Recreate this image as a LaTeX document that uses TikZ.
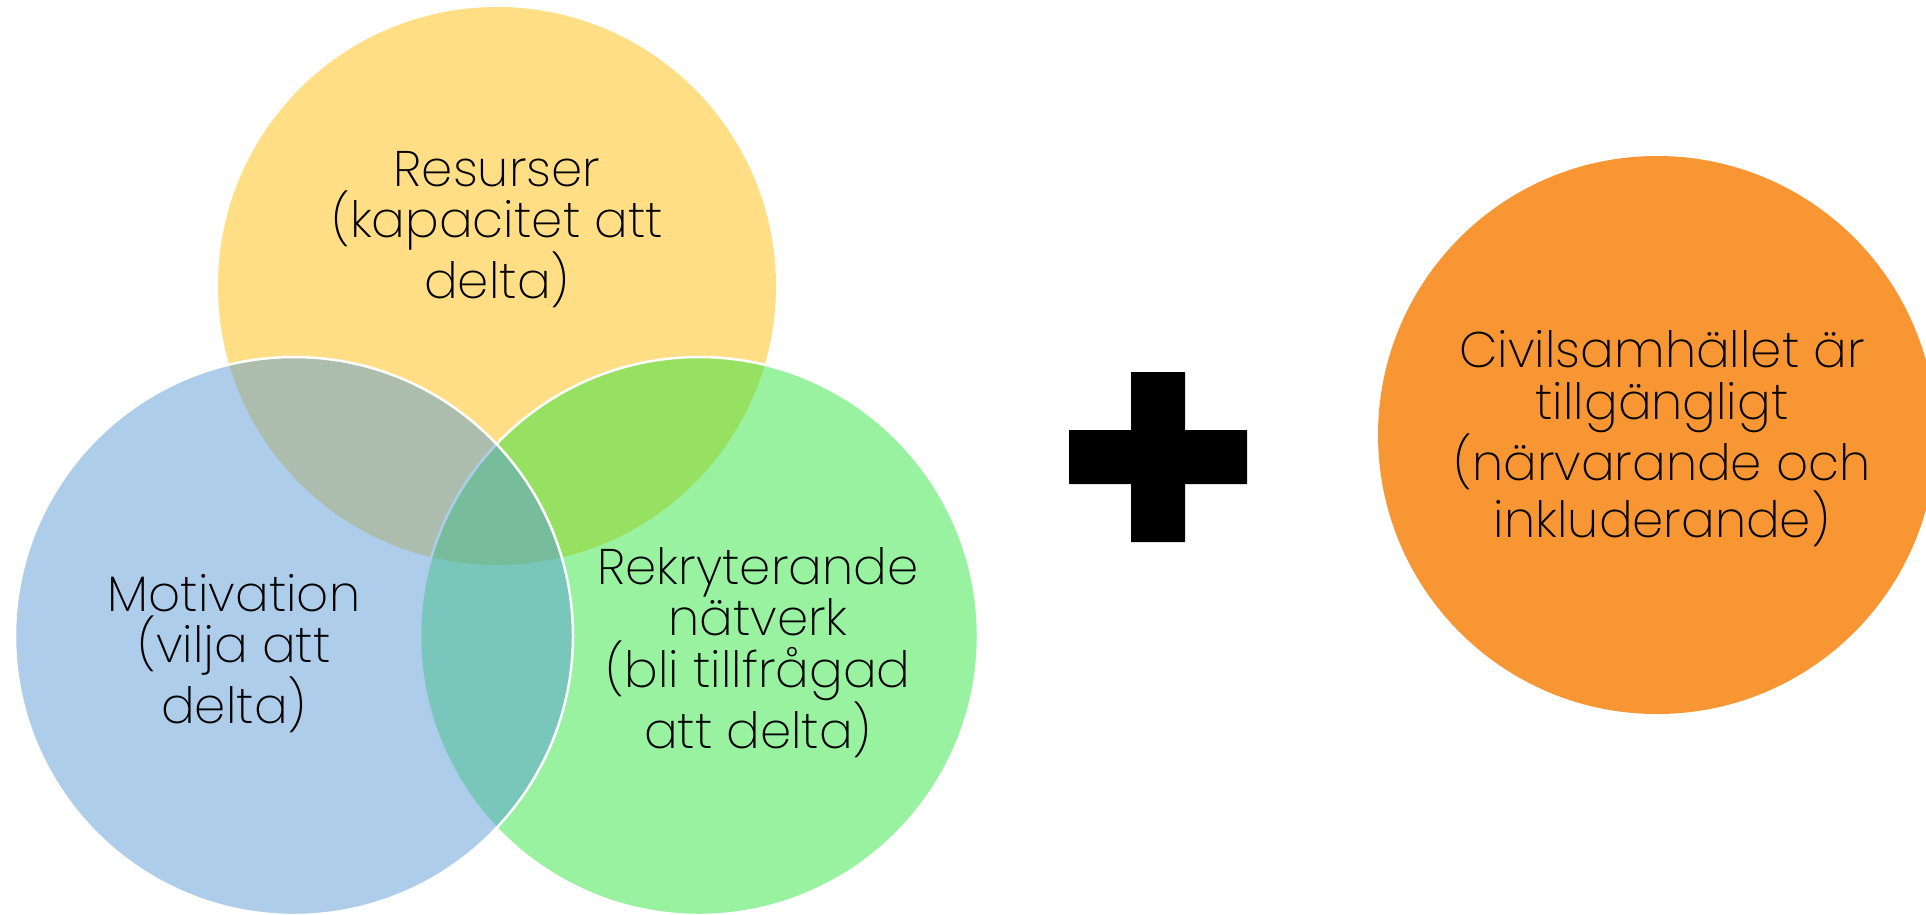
\documentclass[tikz,border=0pt]{standalone}
\usepackage{fontspec}
\setmainfont{Poppins}[UprightFont=* ExtraLight]
\usepackage{tikz}
\usepackage{xcolor}
\definecolor{yel}{RGB}{255,222,133}
\definecolor{grn}{RGB}{49,229,65}
\definecolor{blu}{RGB}{91,155,213}
\definecolor{ora}{RGB}{248,150,52}
\tikzstyle{venn} = [circle, minimum size=558pt, inner sep=0pt]
\tikzstyle{rim} = [draw=white, line width=2.5pt, fill opacity=0.5]
\tikzstyle{lbl} = [align=center, inner sep=0pt, anchor=base, font=\fontsize{50}{51.5}\selectfont]

\begin{document}
\begin{tikzpicture}[x=1pt,y=-1pt]
  \useasboundingbox (0,0) rectangle (1926,914);
  \node[venn, fill=yel] (Y) at (497,286) {};
  \node[venn, rim, fill=grn] (G) at (699,636) {};
  \node[venn, rim, fill=blu] (B) at (294,636) {};
  \node[venn, fill=ora] (O) at (1657,435) {};

  \fill (1131,372) -- (1185,372) -- (1185,430) -- (1247,430) -- (1247,484) -- (1185,484)
    -- (1185,542) -- (1131,542) -- (1131,484) -- (1069,484) -- (1069,430) -- (1131,430) -- cycle;

  % anchor base = last line
  \node[lbl] (R) at (497,298) {Resurser\\(kapacitet att\\delta)};
  \node[lbl] (M) at (234,723) {Motivation\\(vilja att\\delta)};
  \node[lbl] (N) at (758,748) {Rekryterande\\nätverk\\(bli tillfrågad\\att delta)};
  \node[lbl] (C) at (1662,537) {Civilsamhället är\\tillgängligt\\(närvarande och\\inkluderande)};
\end{tikzpicture}
\end{document}
